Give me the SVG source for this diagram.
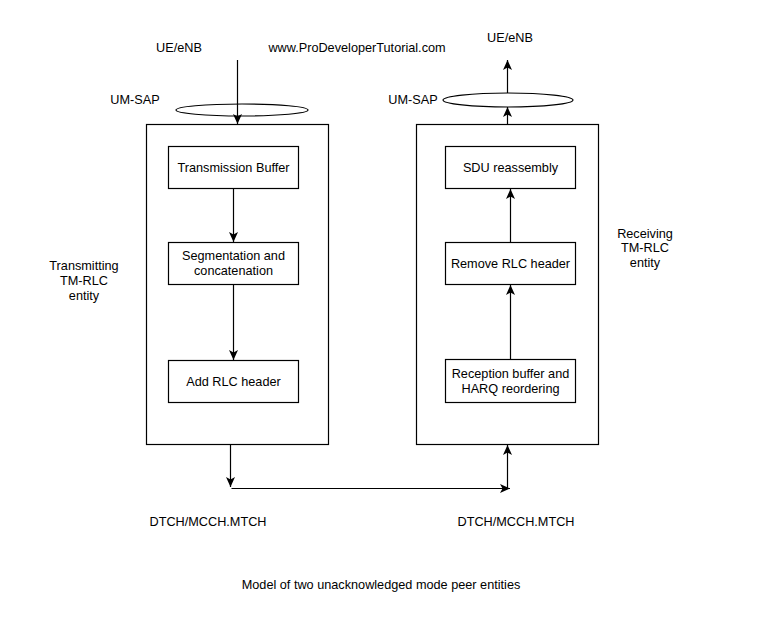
<svg xmlns="http://www.w3.org/2000/svg" width="762" height="619" viewBox="0 0 762 619">
<style>
text{font-family:"Liberation Sans",Arial,sans-serif;font-size:12.7px;fill:#000;text-anchor:middle}
.box{fill:#fff;stroke:#000;stroke-width:1.2}
.ln{fill:none;stroke:#000;stroke-width:1.2;marker-end:url(#arr)}
.pl{fill:none;stroke:#000;stroke-width:1.2}
</style>
<defs>
<marker id="arr" markerUnits="userSpaceOnUse" markerWidth="12" markerHeight="12" refX="10" refY="5" orient="auto">
<path d="M0,0.5 L10,5 L0,9.5 L2.5,5 z" fill="#000"/>
</marker>
</defs>
<rect width="762" height="619" fill="#fff"/>
<g id="tx-entity"><rect class="box" x="146.5" y="124.5" width="182" height="320"/></g>
<g id="rx-entity"><rect class="box" x="416.5" y="124.5" width="182" height="320"/></g>
<g id="sap-left"><ellipse class="pl" cx="242" cy="110" rx="66" ry="6"/></g>
<g id="sap-right"><ellipse class="pl" cx="508" cy="100" rx="65" ry="7"/></g>
<g id="n-txbuf"><rect class="box" x="168.5" y="146.5" width="130" height="42"/><text x="233.5" y="172">Transmission Buffer</text></g>
<g id="n-seg"><rect class="box" x="168.5" y="242.5" width="130" height="42"/><text x="233.5" y="260">Segmentation and</text><text x="233.5" y="275">concatenation</text></g>
<g id="n-add"><rect class="box" x="168.5" y="360.5" width="130" height="42"/><text x="233.5" y="386">Add RLC header</text></g>
<g id="n-sdu"><rect class="box" x="445.5" y="146.5" width="130" height="42"/><text x="510.5" y="172">SDU reassembly</text></g>
<g id="n-rem"><rect class="box" x="445.5" y="242.5" width="130" height="42"/><text x="510.5" y="268">Remove RLC header</text></g>
<g id="n-rec"><rect class="box" x="445.5" y="359.5" width="130" height="43"/><text x="510.5" y="378">Reception buffer and</text><text x="510.5" y="393">HARQ reordering</text></g>
<g id="connectors">
<line class="ln" x1="237.5" y1="60" x2="237.5" y2="124"/>
<line class="ln" x1="233.5" y1="188.5" x2="233.5" y2="242"/>
<line class="ln" x1="233.5" y1="284.5" x2="233.5" y2="360"/>
<line class="ln" x1="510.5" y1="359.5" x2="510.5" y2="285"/>
<line class="ln" x1="510.5" y1="242.5" x2="510.5" y2="189"/>
<line class="ln" x1="507.5" y1="124.5" x2="507.5" y2="107"/>
<line class="ln" x1="507.5" y1="93" x2="507.5" y2="60"/>
<line class="ln" x1="230.5" y1="445" x2="230.5" y2="487"/>
<line class="ln" x1="231.5" y1="488.5" x2="510" y2="488.5"/>
<line class="ln" x1="507.5" y1="488.5" x2="507.5" y2="445"/>
</g>
<g id="labels">
<text x="179" y="52">UE/eNB</text>
<text x="357" y="52">www.ProDeveloperTutorial.com</text>
<text x="135" y="104">UM-SAP</text>
<text x="413" y="104">UM-SAP</text>
<text x="510" y="42">UE/eNB</text>
<text x="84" y="270">Transmitting</text>
<text x="84" y="285">TM-RLC</text>
<text x="84" y="300">entity</text>
<text x="645" y="238">Receiving</text>
<text x="645" y="252">TM-RLC</text>
<text x="645" y="267">entity</text>
<text x="208" y="526">DTCH/MCCH.MTCH</text>
<text x="516" y="526">DTCH/MCCH.MTCH</text>
<text x="381" y="589">Model of two unacknowledged mode peer entities</text>
</g>
</svg>
